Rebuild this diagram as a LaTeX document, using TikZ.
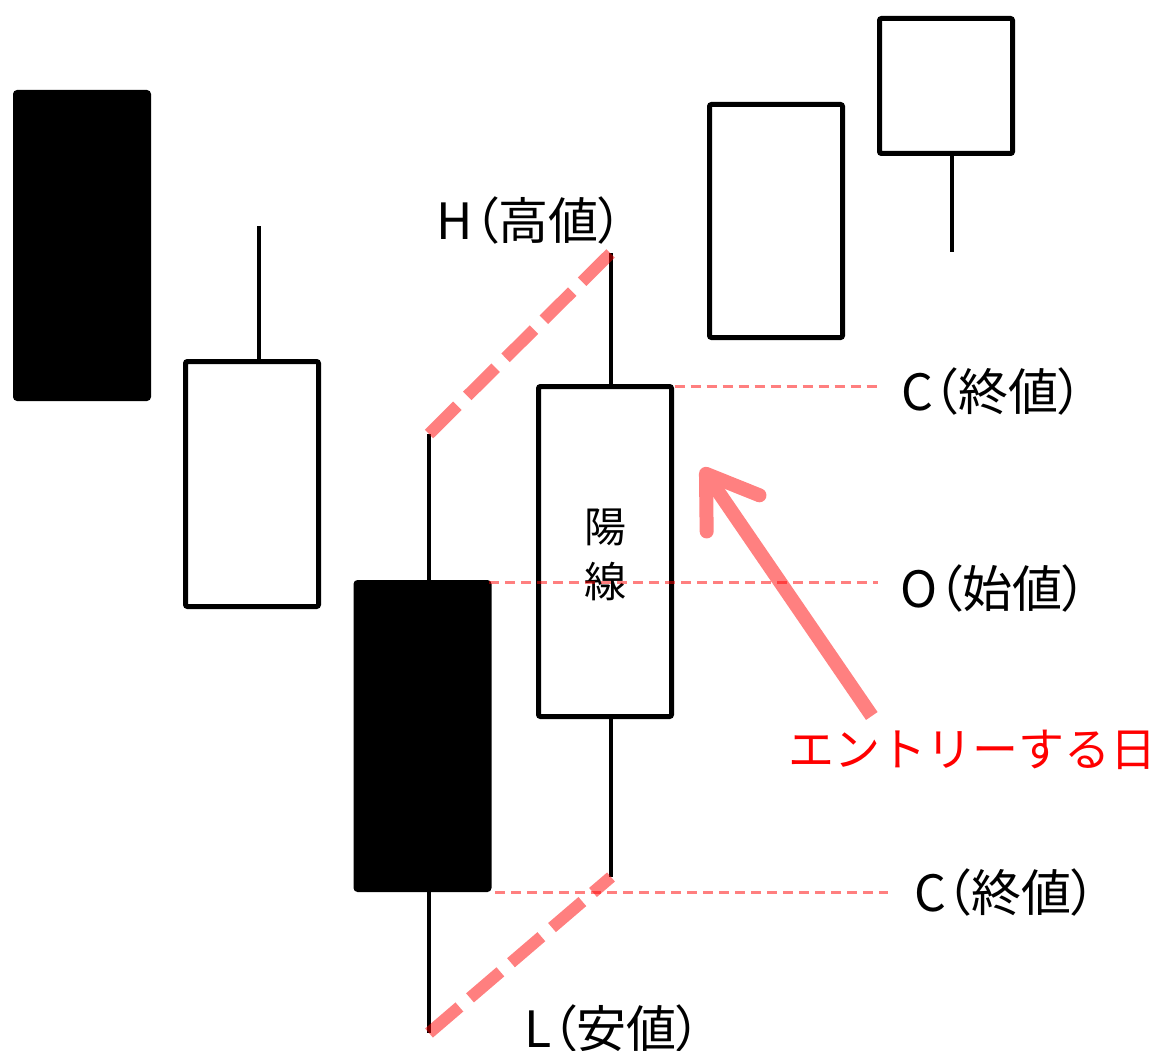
\documentclass[tikz,border=0pt]{standalone}
\usepackage{fontspec}
\usepackage{tikz}
\newfontfamily\jpfont{Noto Sans CJK JP}[RawFeature=+palt]
\newfontfamily\jpwide{Noto Sans CJK JP}
\definecolor{hl}{RGB}{255, 0, 0}
\definecolor{pk}{RGB}{255, 128, 128}
\usetikzlibrary{positioning,arrows.meta}
\def\bodywidth{133pt}
\def\edge{5pt}
\newcommand{\candle}[5]{\node[candle,fill=#5,minimum height=#4pt] (#1) at (#2,#3) {};}

\begin{document}
\begin{tikzpicture}[x=1pt,y=-1pt,
  candle/.style={draw,line width=\edge,rounded corners=2pt,minimum width=\bodywidth,inner sep=0pt,outer sep=0pt},
  wick/.style={line width=4pt},
  hilo/.style={draw=hl,draw opacity=.5,line width=12pt,dash pattern=on 40pt off 14pt},
  guide/.style={draw=hl,draw opacity=.5,line width=3.5pt,dash pattern=on 10pt off 6pt},
  entry/.style={draw=pk,line width=14pt,-{Straight Barb[round,length=48pt,width=64pt]}},
  lbl/.style={font=\jpfont\fontsize{50}{54}\selectfont,inner sep=0pt}]
\useasboundingbox (0,0) rectangle (1156,1051);

\candle{c1}{82}{245.5}{306}{black}
\candle{c2}{252}{484}{245}{white}
\candle{c3}{422.5}{736}{307}{black}
\candle{c4}{605}{551.5}{330}{white}
\candle{c5}{776}{221}{233}{white}
\candle{c6}{946}{86}{135}{white}

\coordinate (t2) at (259,226);
\coordinate (t3) at (429,434);
\coordinate (b3) at (429,1033);
\coordinate (t4) at (611,253);
\coordinate (b4) at (611,877);
\coordinate (b6) at (952,252);
\draw[wick] (t2) -- (t2 |- c2.north);
\draw[wick] (t3) -- (t3 |- c3.north);
\draw[wick] (c3.south -| b3) -- (b3);
\draw[wick] (t4) -- (t4 |- c4.north);
\draw[wick] (c4.south -| b4) -- (b4);
\draw[wick] (c6.south -| b6) -- (b6);

\node[lbl,font=\jpfont\fontsize{42}{55}\selectfont,align=center] (yo) at (605,555) {陽\\線};
\node[lbl] (hi) at (530,220) {H（高値）};
\node[lbl,anchor=west] (cl1) at (901,391) {C（終値）};
\node[lbl,anchor=west] (op) at (900,588) {O（始値）};
\node[lbl,anchor=west] (cl2) at (914,892) {C（終値）};
\node[lbl,anchor=west] (lo) at (524,1028) {L（安値）};
\node[lbl,font=\jpwide\fontsize{46}{50}\selectfont,text=hl] (day) at (972,750) {エントリーする日};

\coordinate (tip) at (702,468);
\draw[entry] ([shift={(84,-14)}]day.north west) -- (tip);

\draw[hilo] (t3) -- (t4);
\draw[hilo] (b3) -- (b4);
\coordinate (g1) at ([xshift=3pt]c4.north east);
\coordinate (g3) at ([shift={(6,3)}]c3.south east);
\draw[guide,shorten >=22pt] (g1) -- (g1 -| cl1.west);
\draw[guide,shorten >=22pt] (c3.north east) -- (c3.north east -| op.west);
\draw[guide,shorten >=26pt] (g3) -- (g3 -| cl2.west);
\end{tikzpicture}
\end{document}
